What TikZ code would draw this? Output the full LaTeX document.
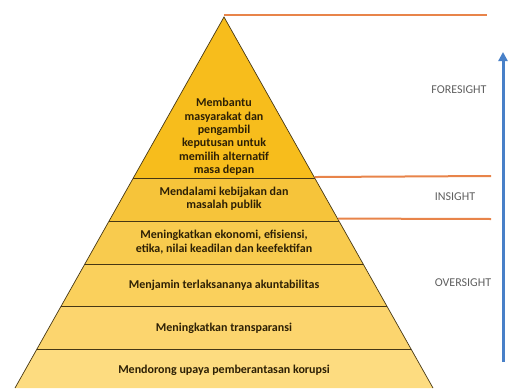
\documentclass[tikz,border=0pt]{standalone}
\usepackage{fontspec}
\setmainfont{Carlito}[BoldFont={Carlito Bold}]
\usetikzlibrary{arrows.meta,positioning,calc}
\definecolor{bandA}{RGB}{247,189,28}
\definecolor{bandB}{RGB}{246,196,58}
\definecolor{bandC}{RGB}{248,203,78}
\definecolor{bandD}{RGB}{250,208,92}
\definecolor{bandE}{RGB}{252,213,110}
\definecolor{bandF}{RGB}{253,220,128}
\definecolor{edgeline}{RGB}{70,55,20}
\definecolor{levelline}{RGB}{232,132,74}
\definecolor{risearrow}{RGB}{72,128,200}
\definecolor{bandtext}{RGB}{45,32,5}
\definecolor{leveltext}{RGB}{95,95,95}
\tikzset{
  bandlabel/.style={align=center, font=\bfseries\fontsize{12}{13.4}\selectfont, text=bandtext, inner sep=1pt},
  levellabel/.style={font=\fontsize{12}{14}\selectfont, text=leveltext},
  levelrule/.style={levelline, line width=2pt},
}
\begin{document}
\begin{tikzpicture}[x=1pt, y=-1pt]
        \useasboundingbox (0,0) rectangle (508,388);
        \clip (0,0) rectangle (508,388);
        % Corners
        \coordinate (apex) at (224,17);
        \coordinate (baseL) at (15,388);
        \coordinate (baseR) at (433,388);
        % Bands
        \foreach \from/\to/\col in {0/0.434/bandA, 0.434/0.550/bandB, 0.550/0.666/bandC,
                                    0.666/0.779/bandD, 0.779/0.895/bandE, 0.895/1/bandF}
        {
        \fill [\col] ($(apex)!\from!(baseL)$) -- ($(apex)!\to!(baseL)$)
                     -- ($(apex)!\to!(baseR)$) -- ($(apex)!\from!(baseR)$) -- cycle;
        }
        \foreach \t in {0.434,0.550,0.666,0.779,0.895}
        {
        \draw [edgeline, line width=0.9pt] ($(apex)!\t!(baseL)$) -- ($(apex)!\t!(baseR)$);
        }
        \draw [edgeline, line width=0.7pt] (baseL) -- (apex) -- (baseR);
        % Level lines
        \coordinate (topEnd) at (487,15);
        \coordinate (insStart) at ($(apex)!0.434!(baseR)$);
        \coordinate (insEnd) at (491,176);
        \coordinate (ovsStart) at ($(apex)!0.546!(baseR)$);
        \coordinate (ovsEnd) at (491,219);
        \draw [levelrule] (apex |- topEnd) -- (topEnd);
        \draw [levelrule] ($(insStart)+(0,-1)$) -- (insEnd);
        \draw [levelrule] ($(ovsStart)+(0,-1)$) -- (ovsEnd);
        % Arrow
        \coordinate (arrowFoot) at (503,362);
        \coordinate (arrowHead) at (503,52);
        \draw [-{Triangle[width=9pt,length=9pt]}, risearrow, line width=3pt] (arrowFoot) -- (arrowHead);
        % Labels
        \node [levellabel] (foresight) at (459,90) {FORESIGHT};
        \node [levellabel] (insight) at (455,197) {INSIGHT};
        \node [levellabel] (oversight) at (463,283) {OVERSIGHT};
        \node [bandlabel] (future) at (224,137) {Membantu\\masyarakat dan\\pengambil\\keputusan untuk\\memilih alternatif\\masa depan};
        \node [bandlabel] (policy) at (224,199) {Mendalami kebijakan dan\\masalah publik};
        \node [bandlabel] (economy) at (224,242) {Meningkatkan ekonomi, efisiensi,\\etika, nilai keadilan dan keefektifan};
        \node [bandlabel] (account) at (224,285) {Menjamin terlaksananya akuntabilitas};
        \node [bandlabel] (transp) at (224,328) {Meningkatkan transparansi};
        \node [bandlabel] (corrupt) at (224,370) {Mendorong upaya pemberantasan korupsi};
\end{tikzpicture}
\end{document}
